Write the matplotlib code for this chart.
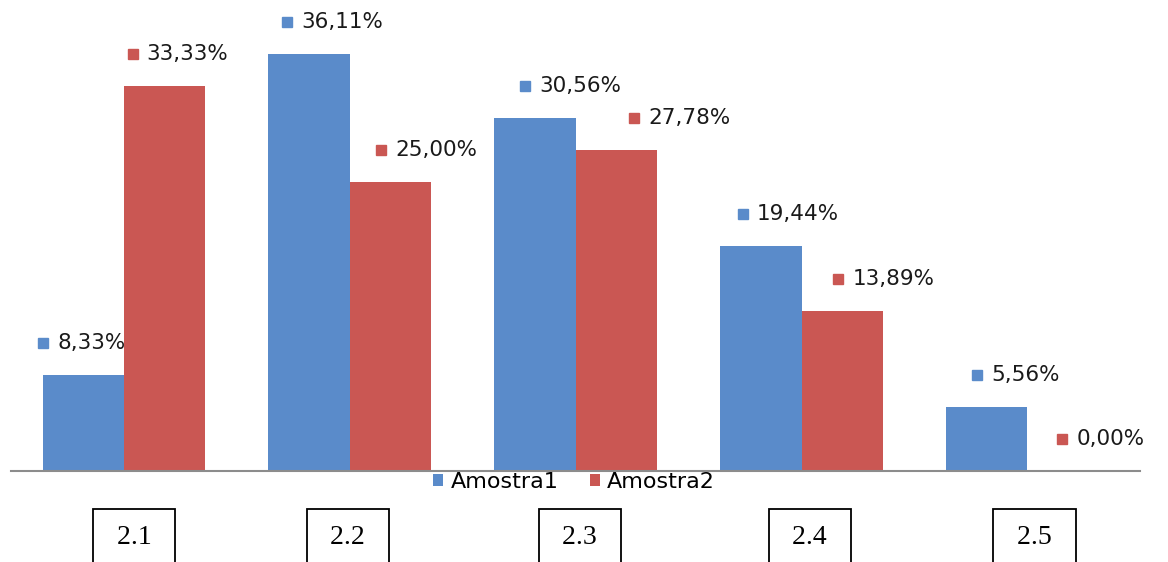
import matplotlib.pyplot as plt
import numpy as np
from matplotlib.transforms import offset_copy, blended_transform_factory

# --- data ---
groups = ["2.1", "2.2", "2.3", "2.4", "2.5"]
amostra1 = [8.33, 36.11, 30.56, 19.44, 5.56]
amostra2 = [33.33, 25.00, 27.78, 13.89, 0.00]
series_names = ["Amostra1", "Amostra2"]

# --- style ---
blue = "#5A8BCA"
red = "#CA5753"
# label square offsets from bar centre, pixels (hand placed in the original)
nudge1 = [-40, -22, -10, -18, -10]
nudge2 = [-32, -9, 18, -4, -6]
box_nudge = [10, -2, 4, 8, 7]

plt.rcParams['font.family'] = ['DejaVu Sans']

fig = plt.figure(figsize=(11.68, 5.62), dpi=100)
ax = fig.add_axes([0.0094, 0.1619, 0.967, 0.822])

x = np.arange(len(groups))
w = 0.36
ax.bar(x - w / 2, amostra1, w, color=blue, label=series_names[0])
ax.bar(x + w / 2, amostra2, w, color=red, label=series_names[1])

ax.set_xlim(-0.5, 4.5)
ax.set_ylim(0, 40)
for s in ["top", "left", "right"]:
    ax.spines[s].set_visible(False)
ax.spines["bottom"].set_color("#8c8c8c")
ax.spines["bottom"].set_linewidth(1.5)
ax.set_xticks([])
ax.set_yticks([])


def fmt(v):
    return f"{v:.2f}".replace(".", ",") + "%"


def label_bars(xs, vals, nudges, color):
    for xi, v, dx in zip(xs, vals, nudges):
        sq = offset_copy(ax.transData, fig=fig, x=dx, y=32, units="dots")
        tx = offset_copy(ax.transData, fig=fig, x=dx + 14, y=32, units="dots")
        ax.plot(xi, v, "s", color=color, markersize=7, transform=sq, clip_on=False)
        ax.text(xi, v, fmt(v), transform=tx, ha="left", va="center",
                fontsize=15.5, color="#1a1a1a", clip_on=False)


label_bars(x - w / 2, amostra1, nudge1, blue)
label_bars(x + w / 2, amostra2, nudge2, red)

fig.legend(loc="center", bbox_to_anchor=(0.4914, 0.142), ncol=2, frameon=False,
           fontsize=16, handlelength=0.45, handleheight=0.45, handletextpad=0.35,
           columnspacing=1.4, borderpad=0)

# boxed group labels under the chart
trans = blended_transform_factory(ax.transData, fig.transFigure)
for xi, g, dx in zip(x, groups, box_nudge):
    t = offset_copy(trans, fig=fig, x=dx, y=0, units="dots")
    ax.text(xi, 0.043, f" {g} ", transform=t, ha="center", va="center",
            fontsize=20, family="Liberation Serif", clip_on=False,
            bbox=dict(boxstyle="square,pad=0.6", fc="white", ec="black", lw=1.3))

fig.savefig("out.png", dpi=100)
